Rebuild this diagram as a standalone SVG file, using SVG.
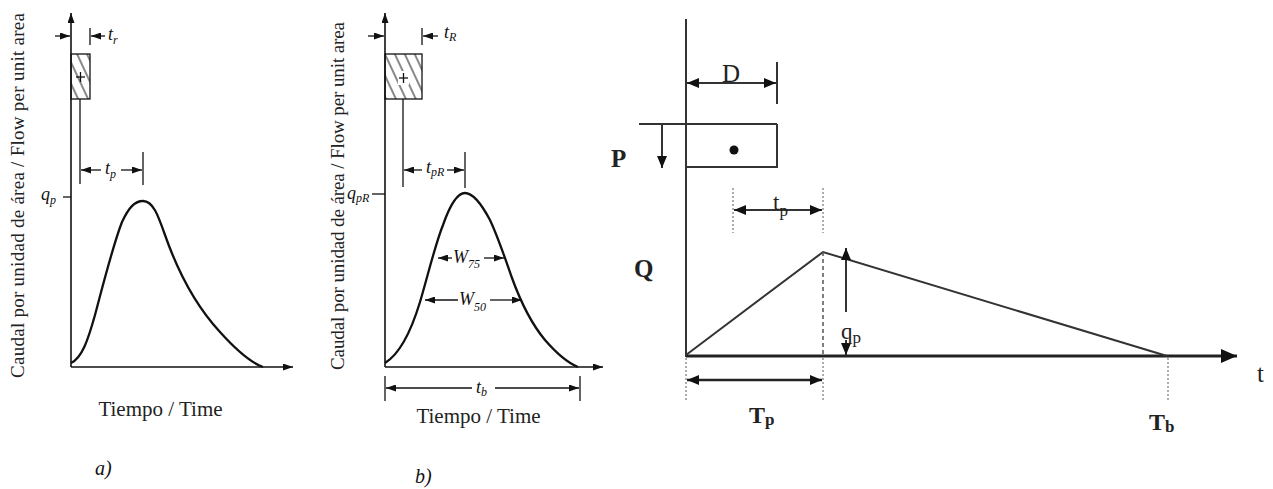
<svg xmlns="http://www.w3.org/2000/svg" width="1273" height="489" viewBox="0 0 1273 489">
<style>
.ln{stroke:#111;stroke-width:1.6;fill:none}
.thin{stroke:#111;stroke-width:1.3;fill:none}
.crv{stroke:#111;stroke-width:2.3;fill:none}
.it{font-family:"Liberation Serif",serif;font-style:italic;fill:#111}
.rm{font-family:"Liberation Serif",serif;fill:#222}
.bd{font-family:"Liberation Serif",serif;font-weight:bold;fill:#222}
.rl{stroke:#333;stroke-width:2;fill:none}
.dash{stroke:#555;stroke-width:1.5;stroke-dasharray:4 3;fill:none}
.dot{stroke:#777;stroke-width:1.2;stroke-dasharray:2 2;fill:none}
</style>
<defs>
<marker id="a1" viewBox="0 0 10 7" refX="10" refY="3.5" markerWidth="10" markerHeight="7" markerUnits="userSpaceOnUse" orient="auto-start-reverse"><path d="M0,0 L10,3.5 L0,7 z" fill="#111"/></marker>
<marker id="a2" viewBox="0 0 12 10" refX="12" refY="5" markerWidth="12" markerHeight="10" markerUnits="userSpaceOnUse" orient="auto-start-reverse"><path d="M0,0 L12,5 L0,10 z" fill="#111"/></marker>
<marker id="a3" viewBox="0 0 16 14" refX="16" refY="7" markerWidth="16" markerHeight="14" markerUnits="userSpaceOnUse" orient="auto"><path d="M0,0 L16,7 L0,14 z" fill="#111"/></marker>
<pattern id="hatch" width="9" height="9" patternUnits="userSpaceOnUse" patternTransform="rotate(-25)"><line x1="2" y1="0" x2="2" y2="9" stroke="#111" stroke-width="1"/></pattern>
</defs>

<g id="panel-a">
<text class="rm" transform="translate(24,195.5) rotate(-90)" text-anchor="middle" font-size="19" textLength="365" lengthAdjust="spacing" fill="#333">Caudal por unidad de área / Flow per unit area</text>
<g id="a-axes">
<line class="ln" x1="71" y1="367" x2="71" y2="13" marker-end="url(#a1)"/>
<line class="ln" x1="71" y1="367" x2="293" y2="367" marker-end="url(#a1)"/>
</g>
<g id="a-rain">
<rect x="71" y="54" width="19" height="45" fill="url(#hatch)" stroke="#111" stroke-width="1.3"/>
<line class="thin" x1="76" y1="77" x2="85" y2="77"/><line class="thin" x1="80.5" y1="72" x2="80.5" y2="82"/>
</g>
<g id="a-tr">
<line class="thin" x1="55" y1="36" x2="70" y2="36" marker-end="url(#a1)"/>
<line class="thin" x1="90" y1="28" x2="90" y2="45"/>
<line class="thin" x1="105" y1="36" x2="91" y2="36" marker-end="url(#a1)"/>
<text class="it" x="108" y="40" font-size="18">t<tspan font-size="12" dy="4">r</tspan></text>
</g>
<g id="a-tp">
<line class="thin" x1="80" y1="99" x2="80" y2="184"/>
<line class="thin" x1="143" y1="152" x2="143" y2="185"/>
<line class="thin" x1="101" y1="170" x2="81" y2="170" marker-end="url(#a1)"/>
<line class="thin" x1="121" y1="170" x2="142" y2="170" marker-end="url(#a1)"/>
<text class="it" x="105" y="174" font-size="18">t<tspan font-size="12" dy="4">p</tspan></text>
</g>
<g id="a-qp">
<line class="thin" x1="63" y1="197" x2="71" y2="197"/>
<text class="it" x="41" y="200" font-size="18">q<tspan font-size="12" dy="4">p</tspan></text>
</g>
<path id="a-curve" class="crv" d="M71,363 C82,358 88,340 95,315 C103,285 113,245 122,222 C129,207 135,201 143,201 C153,201 158,215 165,235 C178,272 195,305 220,332 C238,352 252,363 263,367"/>
<text class="rm" x="160.5" y="416" text-anchor="middle" font-size="21" fill="#222">Tiempo / Time</text>
<text class="it" x="95" y="475" font-size="20" fill="#222">a)</text>
</g>

<g id="panel-b">
<text class="rm" transform="translate(344,196) rotate(-90)" text-anchor="middle" font-size="19" textLength="348" lengthAdjust="spacing" fill="#333">Caudal por unidad de área / Flow per unit area</text>
<g id="b-axes">
<line class="ln" x1="385" y1="367" x2="385" y2="13" marker-end="url(#a1)"/>
<line class="ln" x1="385" y1="367" x2="603" y2="367" marker-end="url(#a1)"/>
</g>
<g id="b-rain">
<rect x="385" y="54" width="37" height="45" fill="url(#hatch)" stroke="#111" stroke-width="1.3"/>
<rect x="398" y="71" width="11" height="14" fill="#fff"/>
<line class="thin" x1="399" y1="78" x2="408" y2="78"/><line class="thin" x1="403.5" y1="73" x2="403.5" y2="83"/>
</g>
<g id="b-tR">
<line class="thin" x1="368" y1="36" x2="384" y2="36" marker-end="url(#a1)"/>
<line class="thin" x1="422" y1="28" x2="422" y2="45"/>
<line class="thin" x1="438" y1="36" x2="423" y2="36" marker-end="url(#a1)"/>
<text class="it" x="444" y="38" font-size="18">t<tspan font-size="12" dy="3">R</tspan></text>
</g>
<g id="b-tpR">
<line class="thin" x1="403" y1="99" x2="403" y2="187"/>
<line class="thin" x1="465" y1="152" x2="465" y2="188"/>
<line class="thin" x1="422" y1="170" x2="404" y2="170" marker-end="url(#a1)"/>
<line class="thin" x1="447" y1="170" x2="464" y2="170" marker-end="url(#a1)"/>
<text class="it" x="426" y="173" font-size="18">t<tspan font-size="12" dy="3">pR</tspan></text>
</g>
<g id="b-qpR">
<line class="thin" x1="372" y1="194" x2="385" y2="194"/>
<text class="it" x="347" y="199" font-size="18">q<tspan font-size="12" dy="3">pR</tspan></text>
</g>
<path id="b-curve" class="crv" d="M385,363 C398,355 410,335 420,302 C428,275 435,245 443,225 C450,205 457,193 465,193 C473,193 482,205 490,220 C498,237 505,258 512,278 C520,300 530,322 545,340 C558,355 568,363 578,367"/>
<g id="b-W75">
<line class="thin" x1="452" y1="258" x2="438" y2="258" marker-end="url(#a1)"/>
<line class="thin" x1="484" y1="258" x2="504" y2="258" marker-end="url(#a1)"/>
<text class="it" x="453" y="263" font-size="18">W<tspan font-size="12" dy="5">75</tspan></text>
</g>
<g id="b-W50">
<line class="thin" x1="458" y1="300" x2="425" y2="300" marker-end="url(#a1)"/>
<line class="thin" x1="490" y1="300" x2="522" y2="300" marker-end="url(#a1)"/>
<text class="it" x="459" y="305" font-size="18">W<tspan font-size="12" dy="6">50</tspan></text>
</g>
<g id="b-tb">
<line class="thin" x1="385" y1="376" x2="385" y2="401"/>
<line class="thin" x1="580" y1="376" x2="580" y2="401"/>
<line class="thin" x1="472" y1="388" x2="386" y2="388" marker-end="url(#a1)"/>
<line class="thin" x1="495" y1="388" x2="579" y2="388" marker-end="url(#a1)"/>
<text class="it" x="476" y="393" font-size="18">t<tspan font-size="12" dy="3">b</tspan></text>
</g>
<text class="rm" x="478.5" y="423" text-anchor="middle" font-size="21" fill="#222">Tiempo / Time</text>
<text class="it" x="415" y="483" font-size="20" fill="#222">b)</text>
</g>

<g id="panel-c">
<g id="c-axes">
<line class="rl" x1="686" y1="19" x2="686" y2="357"/>
<line stroke="#222" stroke-width="3" x1="686" y1="356" x2="1237" y2="356" marker-end="url(#a3)"/>
<text class="rm" x="1257" y="382" font-size="25">t</text>
</g>
<g id="c-D">
<line class="rl" x1="777" y1="62" x2="777" y2="104"/>
<line class="rl" x1="687" y1="83" x2="776" y2="83" marker-start="url(#a2)" marker-end="url(#a2)"/>
<text class="rm" x="731" y="82" text-anchor="middle" font-size="25">D</text>
</g>
<g id="c-rain">
<line class="rl" x1="639" y1="124" x2="777" y2="124"/>
<path class="rl" d="M686,167 H777 V124"/>
<circle cx="734" cy="150" r="4.5" fill="#111"/>
<line class="rl" x1="662" y1="124" x2="662" y2="168" marker-end="url(#a2)"/>
<text class="bd" x="611" y="167" font-size="25">P</text>
</g>
<g id="c-tp">
<line class="dot" x1="733" y1="188" x2="733" y2="233"/>
<line class="dot" x1="823" y1="188" x2="823" y2="233"/>
<line class="rl" x1="734" y1="210" x2="822" y2="210" marker-start="url(#a2)" marker-end="url(#a2)"/>
<text class="rm" x="773" y="210" font-size="23">t<tspan font-size="17" dy="6">p</tspan></text>
</g>
<text id="c-Q" class="bd" x="634" y="277" font-size="25">Q</text>
<path id="c-hydrograph" class="rl" d="M686,355 L823,252 L1167,356"/>
<line class="dash" x1="823" y1="252" x2="823" y2="355"/>
<g id="c-qp">
<line class="rl" x1="846" y1="312" x2="846" y2="248" marker-end="url(#a2)"/>
<line class="rl" x1="846" y1="340" x2="846" y2="355" marker-end="url(#a2)"/>
<text class="rm" x="841" y="339" font-size="23">q<tspan font-size="17" dy="4">p</tspan></text>
</g>
<g id="c-Tp">
<line class="dot" x1="686" y1="358" x2="686" y2="402"/>
<line class="dot" x1="823" y1="358" x2="823" y2="402"/>
<line stroke="#222" stroke-width="2.5" x1="687" y1="380" x2="822" y2="380" marker-start="url(#a2)" marker-end="url(#a2)"/>
<text class="bd" x="749" y="423" font-size="24">T<tspan font-size="17" dy="2">p</tspan></text>
</g>
<g id="c-Tb">
<line class="dot" x1="1168" y1="358" x2="1168" y2="402"/>
<text class="bd" x="1149" y="430" font-size="24">T<tspan font-size="17" dy="2">b</tspan></text>
</g>
</g>
</svg>
